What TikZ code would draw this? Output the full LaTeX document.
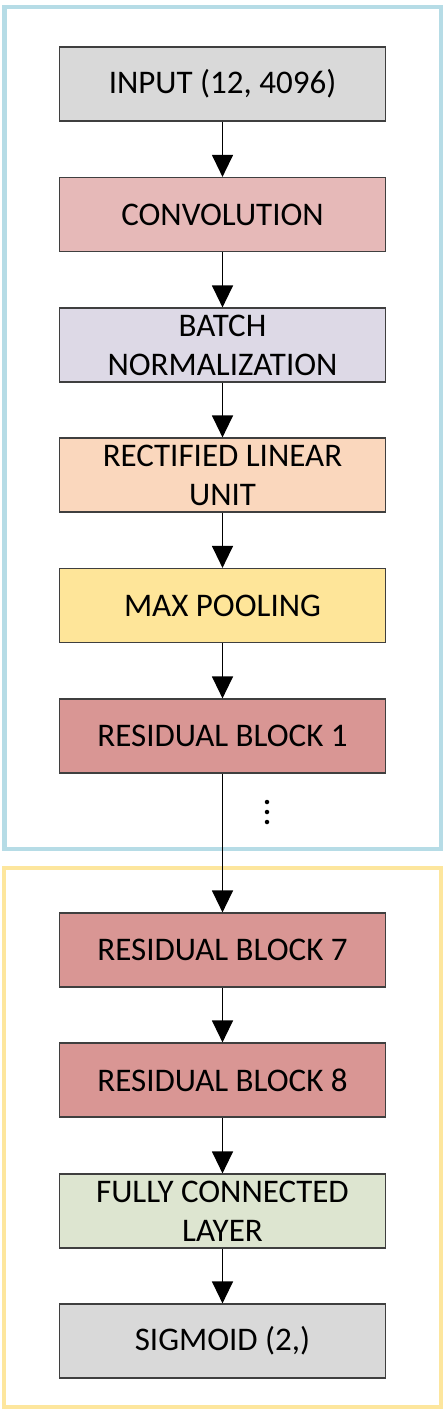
\documentclass[tikz,border=0pt]{standalone}
\usepackage{fontspec}
\setmainfont{Carlito}
\usetikzlibrary{arrows.meta}
\definecolor{cgray}{HTML}{D9D9D9}
\definecolor{cconv}{HTML}{E6B9B8}
\definecolor{cbatch}{HTML}{DDD9E6}
\definecolor{crelu}{HTML}{FAD7BD}
\definecolor{cpool}{HTML}{FEE599}
\definecolor{cres}{HTML}{D99694}
\definecolor{cfc}{HTML}{DDE5D0}
\definecolor{cblue}{HTML}{B6DCE6}
\definecolor{cyel}{HTML}{FDE69D}
\definecolor{cedge}{HTML}{3F3F3F}
\tikzset{
  layerbox/.style={draw=cedge, line width=1.2pt, minimum width=326pt, minimum height=74pt,
    inner sep=0pt, align=center, font=\fontsize{33}{39}\selectfont, text=black},
  flow/.style={line width=1.3pt, -{Triangle[width=21pt,length=22pt]}},
  frame/.style={line width=4.5pt}
}
\begin{document}
\begin{tikzpicture}[x=1pt,y=-1pt]
\useasboundingbox (0,0) rectangle (445,1415);
\draw[frame, draw=cblue] (4.5,7) rectangle (441,849);
\draw[frame, draw=cyel] (4,868) rectangle (441,1407);
\node[layerbox, fill=cgray] (in) at (222.5,84) {INPUT (12, 4096)};
\node[layerbox, fill=cconv] (conv) at (222.5,214.5) {CONVOLUTION};
\node[layerbox, fill=cbatch] (bn) at (222.5,345) {BATCH\\NORMALIZATION};
\node[layerbox, fill=crelu] (relu) at (222.5,475) {RECTIFIED LINEAR\\UNIT};
\node[layerbox, fill=cpool] (pool) at (222.5,605.5) {MAX POOLING};
\node[layerbox, fill=cres] (r1) at (222.5,736) {RESIDUAL BLOCK 1};
\node[layerbox, fill=cres] (r7) at (222.5,950) {RESIDUAL BLOCK 7};
\node[layerbox, fill=cres] (r8) at (222.5,1080) {RESIDUAL BLOCK 8};
\node[layerbox, fill=cfc] (fc) at (222.5,1211) {FULLY CONNECTED\\LAYER};
\node[layerbox, fill=cgray] (sig) at (222.5,1341) {SIGMOID (2,)};
\node[circle, fill=black, inner sep=0pt, minimum size=4.5pt] (d1) at (267,802) {};
\node[circle, fill=black, inner sep=0pt, minimum size=4.5pt] (d2) at (267,812) {};
\node[circle, fill=black, inner sep=0pt, minimum size=4.5pt] (d3) at (267,822) {};
\draw[flow] (in) -- (conv);
\draw[flow] (conv) -- (bn);
\draw[flow] (bn) -- (relu);
\draw[flow] (relu) -- (pool);
\draw[flow] (pool) -- (r1);
\draw[flow] (r1) -- (r7);
\draw[flow] (r7) -- (r8);
\draw[flow] (r8) -- (fc);
\draw[flow] (fc) -- (sig);
\end{tikzpicture}
\end{document}
